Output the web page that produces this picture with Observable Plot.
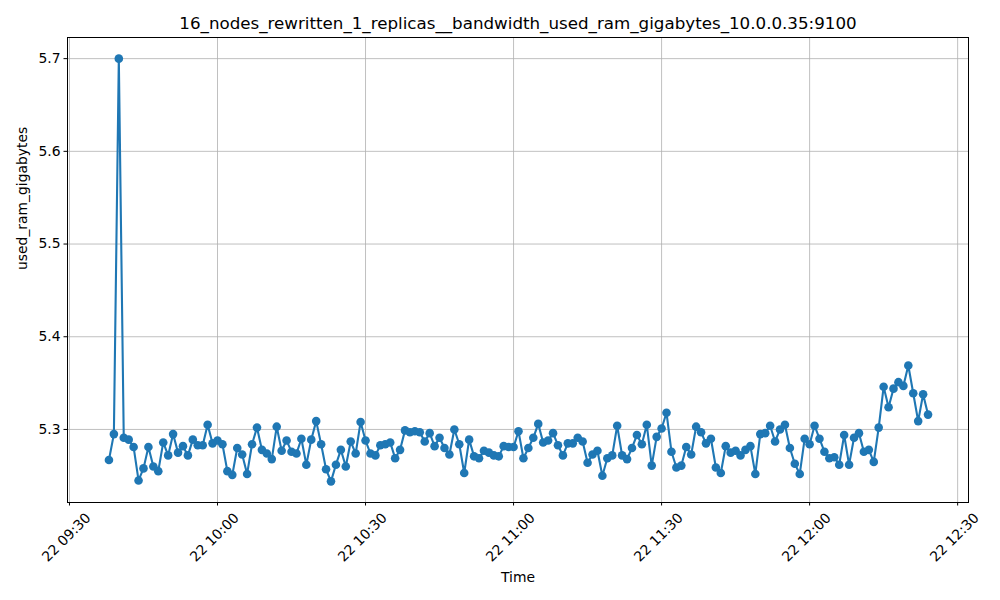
<!DOCTYPE html>
<html><head><meta charset="utf-8">
<script src="https://cdn.jsdelivr.net/npm/d3@7"></script>
<script src="https://cdn.jsdelivr.net/npm/@observablehq/plot@0.6"></script>
<style>body{margin:0;background:#fff} svg{font-family:"DejaVu Sans"}</style>
</head><body><div id="chart"></div>
<script>
const day = "2024-01-22";
const chartTitle = "16_nodes_rewritten_1_replicas__bandwidth_used_ram_gigabytes_10.0.0.35:9100";
const xLabel = "Time";
const yLabel = "used_ram_gigabytes";
const times = [
"09:38","09:39","09:40","09:41","09:42","09:43","09:44","09:45","09:46","09:47","09:48","09:49","09:50","09:51","09:52","09:53","09:54","09:55","09:56","09:57","09:58","09:59",
"10:00","10:01","10:02","10:03","10:04","10:05","10:06","10:07","10:08","10:09","10:10","10:11","10:12","10:13","10:14","10:15","10:16","10:17","10:18","10:19","10:20","10:21","10:22","10:23","10:24","10:25","10:26","10:27","10:28","10:29",
"10:30","10:31","10:32","10:33","10:34","10:35","10:36","10:37","10:38","10:39","10:40","10:41","10:42","10:43","10:44","10:45","10:46","10:47","10:48","10:49","10:50","10:51","10:52","10:53","10:54","10:55","10:56","10:57","10:58","10:59",
"11:00","11:01","11:02","11:03","11:04","11:05","11:06","11:07","11:08","11:09","11:10","11:11","11:12","11:13","11:14","11:15","11:16","11:17","11:18","11:19","11:20","11:21","11:22","11:23","11:24","11:25","11:26","11:27","11:28","11:29",
"11:30","11:31","11:32","11:33","11:34","11:35","11:36","11:37","11:38","11:39","11:40","11:41","11:42","11:43","11:44","11:45","11:46","11:47","11:48","11:49","11:50","11:51","11:52","11:53","11:54","11:55","11:56","11:57","11:58","11:59",
"12:00","12:01","12:02","12:03","12:04","12:05","12:06","12:07","12:08","12:09","12:10","12:11","12:12","12:13","12:14","12:15","12:16","12:17","12:18","12:19","12:20","12:21","12:22","12:23","12:24"
];
const values = [
5.267,5.295,5.700,5.291,5.289,5.281,5.245,5.258,5.281,5.260,5.255,5.286,5.272,5.295,5.275,5.282,5.272,5.289,5.283,5.283,5.305,5.285,
5.288,5.284,5.255,5.251,5.280,5.273,5.252,5.284,5.302,5.278,5.274,5.268,5.303,5.277,5.288,5.276,5.274,5.290,5.262,5.289,5.309,5.284,5.257,5.244,5.262,5.278,5.260,5.287,5.274,5.308,
5.288,5.274,5.272,5.283,5.284,5.286,5.269,5.278,5.299,5.297,5.298,5.297,5.287,5.296,5.282,5.291,5.280,5.273,5.300,5.284,5.253,5.289,5.271,5.269,5.277,5.275,5.272,5.271,5.282,5.281,
5.281,5.298,5.269,5.280,5.291,5.306,5.286,5.288,5.296,5.283,5.272,5.285,5.285,5.291,5.287,5.264,5.273,5.277,5.250,5.269,5.272,5.304,5.272,5.268,5.280,5.294,5.284,5.305,5.261,5.292,
5.301,5.318,5.276,5.259,5.261,5.281,5.273,5.303,5.297,5.285,5.290,5.259,5.253,5.282,5.275,5.277,5.272,5.278,5.282,5.252,5.295,5.296,5.304,5.287,5.300,5.305,5.280,5.263,5.252,5.290,
5.284,5.304,5.290,5.276,5.269,5.270,5.262,5.294,5.262,5.291,5.296,5.276,5.278,5.265,5.302,5.346,5.324,5.344,5.351,5.347,5.369,5.339,5.309,5.338,5.316
];
const xTickLabels = ["09:30","10:00","10:30","11:00","11:30","12:00","12:30"];
const yTicks = [5.3, 5.4, 5.5, 5.6, 5.7];

const toDate = t => new Date(`${day}T${t}:00Z`);
const data = times.map((t, i) => ({time: toDate(t), value: values[i]}));
const xTicks = xTickLabels.map(toDate);
const grid = {stroke: "#b0b0b0", strokeOpacity: 1, strokeWidth: 0.8};

const chart = Plot.plot({
  width: 1000, height: 600,
  marginLeft: 67, marginRight: 32, marginTop: 37, marginBottom: 98,
  style: {fontFamily: "DejaVu Sans", fontSize: "13.9px", background: "white", color: "black"},
  x: {type: "utc", domain: [new Date(`${day}T09:29:36Z`), new Date(`${day}T12:32:12Z`)]},
  y: {domain: [5.2212, 5.7228]},
  marks: [
    Plot.gridX(xTicks, grid),
    Plot.gridY(yTicks, grid),
    Plot.line(data, {x: "time", y: "value", stroke: "#1f77b4", strokeWidth: 2.1}),
    Plot.dot(data, {x: "time", y: "value", fill: "#1f77b4", r: 4.3}),
    Plot.frame({stroke: "black", strokeWidth: 1}),
    Plot.axisX(xTicks, {tickFormat: () => "", tickSize: 3.5, label: null}),
    Plot.axisX(xTicks, {tickFormat: d3.utcFormat("%d %H:%M"), tickRotate: -45, tickSize: 0, tickPadding: 7, label: null, fontSize: 13.9, dx: 19, dy: 6}),
    Plot.axisY(yTicks, {tickFormat: d => d.toFixed(1), tickSize: 3.5, tickPadding: 3.5, label: null, fontSize: 13.9}),
    Plot.text([chartTitle], {frameAnchor: "top", dy: -14, fontSize: 16.7, lineAnchor: "middle"}),
    Plot.text([xLabel], {frameAnchor: "bottom", dy: 75, fontSize: 13.9, lineAnchor: "middle"}),
    Plot.text([yLabel], {frameAnchor: "left", dx: -45, rotate: -90, fontSize: 13.9, lineAnchor: "middle"})
  ]
});
document.getElementById("chart").append(chart);
</script></body></html>
